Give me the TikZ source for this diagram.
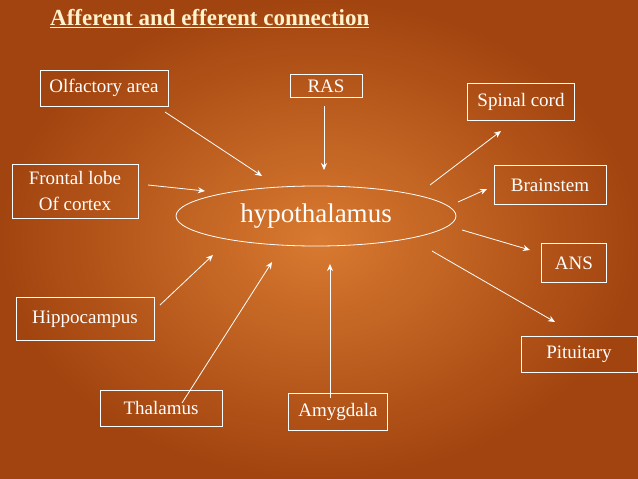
\documentclass[tikz,border=0pt]{standalone}
\usepackage{fontspec}
\setmainfont{Liberation Serif}
\usetikzlibrary{shapes.geometric,arrows.meta}
\definecolor{bgA}{HTML}{A2440F}
\definecolor{bgB}{HTML}{D87A30}
\definecolor{ttl}{HTML}{FFF2CC}
\begin{document}
\begin{tikzpicture}[x=1pt,y=-1pt,
  box/.style={draw=white,line width=0.8pt,text=white,font=\fontsize{19}{22}\selectfont,inner sep=2pt},
  arr/.style={-{Stealth[length=7pt,width=6pt]},draw=white,line width=0.8pt}]
\shade[inner color=bgB,outer color=bgA] (0,0) rectangle (638,479);
\useasboundingbox (0,0) rectangle (638,479);
\node[text=ttl,font=\bfseries\fontsize{23}{26}\selectfont,anchor=west,inner sep=0] (t) at (50,19) {\underline{Afferent and efferent connection}};
\node[box,minimum width=128,minimum height=36] (olf) at (104,88) {Olfactory area};
\node[box,minimum width=72,minimum height=23] (ras) at (326,86) {RAS};
\node[box,minimum width=107,minimum height=37] (sc) at (521,102) {Spinal cord};
\node[box,minimum width=126,minimum height=54,align=center,font=\fontsize{19}{26}\selectfont] (fl) at (75,191) {Frontal lobe\\Of cortex};
\node[box,minimum width=112,minimum height=39] (bs) at (550,185) {Brainstem};
\node[draw=white,line width=0.8pt,ellipse,minimum width=280,minimum height=60,inner sep=0,text=white,font=\fontsize{27}{30}\selectfont] (hy) at (316,216) {hypothalamus};
\node[box,minimum width=65,minimum height=39] (ans) at (574,263) {ANS};
\node[box,minimum width=138,minimum height=43] (hip) at (85,319) {Hippocampus};
\node[box,minimum width=116,minimum height=36] (pit) at (579,354) {Pituitary};
\node[box,minimum width=122,minimum height=36] (th) at (161,408) {Thalamus};
\node[box,minimum width=99,minimum height=37] (am) at (338,412) {Amygdala};
\coordinate (a1) at (165,112); \coordinate (b1) at (262,176);
\coordinate (a2) at (324,106); \coordinate (b2) at (324,170);
\coordinate (a3) at (148,185); \coordinate (b3) at (205,191);
\coordinate (a4) at (160,305); \coordinate (b4) at (213,255);
\coordinate (a5) at (182,403); \coordinate (b5) at (272,262);
\coordinate (a6) at (330,398); \coordinate (b6) at (330,264);
\coordinate (a7) at (430,185); \coordinate (b7) at (501,131);
\coordinate (a8) at (458,202); \coordinate (b8) at (487,189);
\coordinate (a9) at (462,230); \coordinate (b9) at (530,250);
\coordinate (a10) at (432,251); \coordinate (b10) at (555,322);
\foreach \i in {1,...,10} \draw[arr] (a\i) -- (b\i);
\end{tikzpicture}
\end{document}
